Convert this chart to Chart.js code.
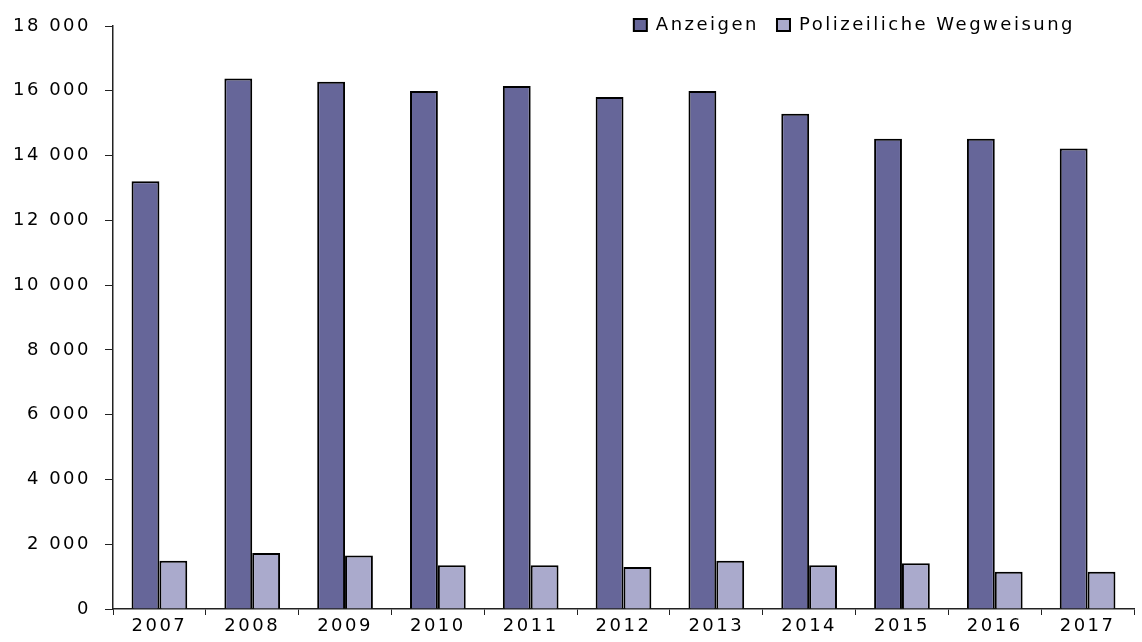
<!DOCTYPE html>
<html>
<head>
<meta charset="utf-8">
<script src="https://cdn.jsdelivr.net/npm/chart.js@4/dist/chart.umd.min.js"></script>
<style>
  html, body { margin: 0; padding: 0; background: #fff; }
  #wrap { width: 1142px; height: 642px; }
</style>
</head>
<body>
<div id="wrap"><canvas id="chart"></canvas></div>
<script>
// Data
const years = ['2007', '2008', '2009', '2010', '2011', '2012', '2013', '2014', '2015', '2016', '2017'];
const anzeigen = [13210, 16380, 16280, 15990, 16150, 15810, 15990, 15290, 14520, 14520, 14220];
const wegweisung = [1490, 1730, 1650, 1350, 1350, 1300, 1490, 1350, 1410, 1150, 1150];
const seriesNames = ['Anzeigen', 'Polizeiliche Wegweisung'];
const yMin = 0;
const yMax = 18000;
const yStep = 2000;

const ctx = document.getElementById('chart').getContext('2d');
const font = { family: '"DejaVu Sans", sans-serif', size: 18 };

function formatThousands(v) {
    return String(v).replace(/\B(?=(\d{3})+(?!\d))/g, ' ');
}

// wide lettering like the original, legend placed over the plot top
const textLayout = {
    id: 'textLayout',
    beforeUpdate(chart) {
        chart.ctx.letterSpacing = '2.5px';
    },
    beforeDraw(chart) {
        chart.ctx.letterSpacing = '2.5px';
        chart.legend.top = -2;
        chart.legend.bottom = 44;
        chart.legend.right = 1093;
    }
};

new Chart(ctx, {
    type: 'bar',
    data: {
        labels: years,
        datasets: [{
            label: seriesNames[0],
            data: anzeigen,
            backgroundColor: '#666699',
            borderColor: '#000',
            borderWidth: 2
        }, {
            label: seriesNames[1],
            data: wegweisung,
            backgroundColor: '#aaaacc',
            borderColor: '#000',
            borderWidth: 2
        }]
    },
    options: {
        responsive: true,
        maintainAspectRatio: false,
        animation: false,
        layout: { padding: { top: -20, right: 8, bottom: 0, left: 0 } },
        datasets: { bar: { categoryPercentage: 0.6, barPercentage: 1 } },
        plugins: {
            tooltip: { enabled: false },
            legend: {
                position: 'top',
                align: 'end',
                labels: {
                    font: font,
                    color: '#000',
                    boxWidth: 13,
                    boxHeight: 12,
                    padding: 18
                }
            }
        },
        scales: {
            x: {
                grid: { display: true, drawOnChartArea: false, tickLength: 6, color: '#222' },
                border: { color: '#222', width: 1.5 },
                ticks: { font: font, color: '#000', padding: 1, maxRotation: 0, autoSkip: false },
                afterFit(scale) { scale.height = 33; }
            },
            y: {
                min: yMin,
                max: yMax,
                grid: { display: true, drawOnChartArea: false, tickLength: 8, color: '#222' },
                border: { color: '#222', width: 1.5 },
                ticks: {
                    stepSize: yStep,
                    font: font,
                    color: '#000',
                    padding: 14,
                    callback: (v) => formatThousands(v)
                },
                afterFit(scale) { scale.width = 113; }
            }
        }
    },
    plugins: [textLayout]
});
</script>
</body>
</html>
